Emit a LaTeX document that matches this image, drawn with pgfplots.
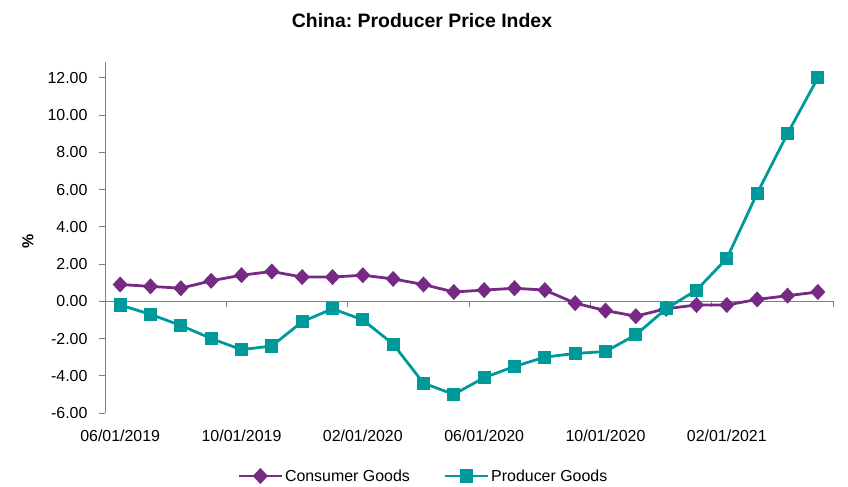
\documentclass[border=0pt]{standalone}
\usepackage{pgfplots}
\pgfplotsset{compat=1.18}
\usepackage{fontspec}
\setmainfont{Liberation Sans}
\usetikzlibrary{calc}
\frenchspacing

\definecolor{cgood}{RGB}{118,42,131}
\definecolor{pgood}{RGB}{0,153,153}

% monthly y/y change, 06/2019 .. 05/2021
\pgfplotstableread{
i  consumer producer
0   0.9  -0.2
1   0.8  -0.7
2   0.7  -1.3
3   1.1  -2.0
4   1.4  -2.6
5   1.6  -2.4
6   1.3  -1.1
7   1.3  -0.4
8   1.4  -1.0
9   1.2  -2.3
10  0.9  -4.4
11  0.5  -5.0
12  0.6  -4.1
13  0.7  -3.5
14  0.6  -3.0
15 -0.1  -2.8
16 -0.5  -2.7
17 -0.8  -1.8
18 -0.4  -0.4
19 -0.2   0.6
20 -0.2   2.3
21  0.1   5.8
22  0.3   9.0
23  0.5  12.0
}\ppi

\begin{document}
\begin{tikzpicture}
\begin{axis}[
  name=ax,
  scale only axis,
  width=728bp, height=351bp,
  xmin=-0.5, xmax=23.5,
  ymin=-6, ymax=12.85,
  axis lines=left,
  axis line style={draw=gray, line width=0.8pt, -},
  x axis line style={draw=none},
  xtick={0,4,...,20},
  xticklabels={06/01/2019,10/01/2019,02/01/2020,06/01/2020,10/01/2020,02/01/2021},
  xtick style={draw=none},
  xticklabel style={font=\fontsize{16}{18}\selectfont, yshift=-7bp},
  ytick={-6,-4,...,12},
  ytick style={draw=gray, line width=0.8pt},
  tick align=outside,
  major tick length=6bp,
  yticklabel style={font=\fontsize{16}{18}\selectfont, xshift=-8bp,
    /pgf/number format/fixed, /pgf/number format/fixed zerofill,
    /pgf/number format/precision=2, /pgf/number format/assume math mode=true},
  ylabel={\textbf{\%}},
  ylabel style={font=\fontsize{16}{18}\selectfont, at={(axis description cs:-0.106,0.49)}, anchor=center},
  legend columns=2,
  legend style={draw=none, font=\fontsize{16}{18}\selectfont,
    at={(axis description cs:0.4375,-0.1795)}, anchor=center,
    /tikz/every even column/.append style={column sep=32bp}},
  legend image code/.code={
    \draw[mark repeat=2,mark phase=2] plot coordinates {(0cm,0cm) (0.75cm,0cm) (1.5cm,0cm)};},
  clip=false,
]
\draw[gray, line width=0.8pt] (axis cs:-0.5,0) -- (axis cs:23.5,0);
\pgfplotsinvokeforeach{3.5,7.5,11.5,15.5,19.5,23.5}{
  \draw[gray, line width=0.8pt] (axis cs:#1,0) -- ++(0pt,-6bp);
}

\addplot[color=cgood, line width=2.8pt, mark=diamond*, mark size=6bp,
  mark options={solid, xscale=1.25}] table[x=i, y=consumer] {\ppi};
\addlegendentry{Consumer Goods}
\addplot[color=pgood, line width=2.8pt, mark=square*, mark size=5.2bp,
  mark options={solid}] table[x=i, y=producer] {\ppi};
\addlegendentry{Producer Goods}
\end{axis}
\node[font=\bfseries\fontsize{19.5}{22}\selectfont] at ($(ax.south west)+(317bp,392bp)$) {China: Producer Price Index};
\path[use as bounding box] ($(ax.south west)+(-105bp,-74bp)$) rectangle ++(848bp,487bp);
\end{tikzpicture}
\end{document}
